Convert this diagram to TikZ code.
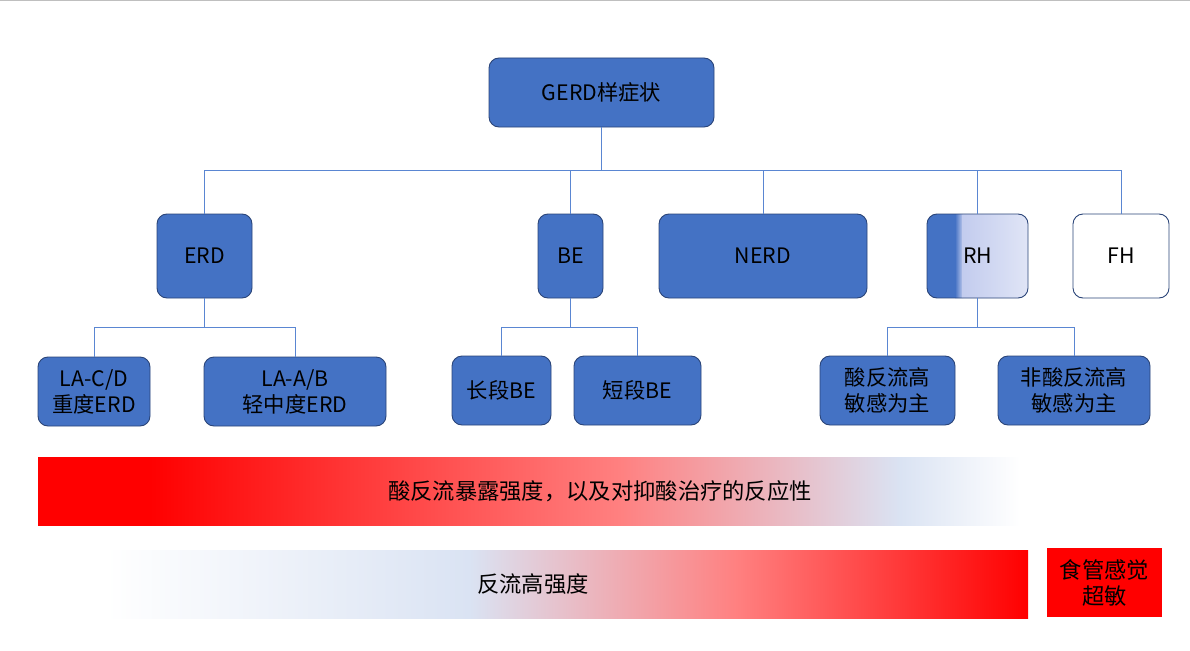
\documentclass[tikz,border=0pt]{standalone}
\usepackage{fontspec}
\setmainfont{Noto Sans CJK SC}
\usepackage{xcolor}
\usetikzlibrary{positioning}
\definecolor{boxblue}{HTML}{4472C4}
\definecolor{boxedge}{HTML}{2A4478}
\definecolor{linkblue}{HTML}{5A86D2}
\definecolor{paleblue}{HTML}{DAE3F3}
\definecolor{rhpale}{HTML}{C3CCEE}
\definecolor{rhlight}{HTML}{E0E5F6}
\definecolor{pinkred}{HTML}{FF8080}

\pgfdeclarehorizontalshading{acidbar}{100bp}{color(0bp)=(red); color(30.7bp)=(red);
  color(54.6bp)=(pinkred); color(68.9bp)=(paleblue); color(75bp)=(white); color(100bp)=(white)}
\pgfdeclarehorizontalshading{refluxbar}{100bp}{color(0bp)=(white); color(25bp)=(white);
  color(44.7bp)=(paleblue); color(59.2bp)=(pinkred); color(75bp)=(red); color(100bp)=(red)}

\tikzset{
  catbox/.style={draw=boxedge, fill=boxblue, line width=0.9pt, rounded corners=10pt,
    minimum height=84pt, align=center, font=\fontsize{21.3}{26}\selectfont},
  leafbox/.style={catbox, minimum height=69pt},
  link/.style={draw=linkblue, line width=0.9pt},
  barlabel/.style={font=\fontsize{22.3}{26}\selectfont, align=center}
}

\begin{document}
\begin{tikzpicture}[x=1pt, y=-1pt]
  \useasboundingbox (0,0) rectangle (1190,650);
  \draw[black!25, line width=1.5pt] (0,0.75) -- (1190,0.75);

  % top level
  \node[leafbox, minimum width=225pt] (gerd) at (601.5,92.5) {GERD样症状};

  % second level
  \node[catbox, minimum width=95pt] (erd) at (204.5,256) {ERD};
  \node[catbox, minimum width=65pt] (be) at (570.5,256) {BE};
  \node[catbox, minimum width=208pt] (nerd) at (763,256) {NERD};
  \node[catbox, minimum width=101pt, fill=rhlight,
        path picture={
          \fill[boxblue, sharp corners] (path picture bounding box.north west)
            rectangle ([xshift=28.5pt]path picture bounding box.south west);
          \shade[sharp corners, left color=boxblue, right color=rhpale]
            ([xshift=28pt]path picture bounding box.north west)
            rectangle ([xshift=36pt]path picture bounding box.south west);
          \shade[sharp corners, left color=rhpale, right color=rhlight]
            ([xshift=35.5pt]path picture bounding box.north west)
            rectangle (path picture bounding box.south east);
        }] (rh) at (977.5,256) {RH};
  \node[catbox, minimum width=96pt, fill=white] (fh) at (1121,256) {FH};

  % third level
  \node[leafbox, minimum width=112pt] (lacd) at (94,391.5) {LA-C/D\\重度ERD};
  \node[leafbox, minimum width=182pt] (laab) at (295,391.5) {LA-A/B\\轻中度ERD};
  \node[leafbox, minimum width=99pt] (longbe) at (501.5,390.5) {长段BE};
  \node[leafbox, minimum width=127pt] (shortbe) at (637.5,390.5) {短段BE};
  \node[leafbox, minimum width=135pt] (acidrh) at (887.5,390.5) {酸反流高\\敏感为主};
  \node[leafbox, minimum width=152pt] (nonacidrh) at (1074,390.5) {非酸反流高\\敏感为主};

  % connectors
  \foreach \n in {erd,be,nerd,rh,fh}
    \draw[link] (gerd.south) -- ++(0,43) -| (\n.north);
  \foreach \n in {lacd,laab}
    \draw[link] (erd.south) -- ++(0,29) -| (\n.north);
  \foreach \n in {longbe,shortbe}
    \draw[link] (be.south) -- ++(0,29) -| (\n.north);
  \foreach \n in {acidrh,nonacidrh}
    \draw[link] (rh.south) -- ++(0,29) -| (\n.north);

  % gradient bars
  \shade[shading=acidbar] (38,457) rectangle (1020,525);
  \node[barlabel] (acidtext) at (600,491) {酸反流暴露强度，以及对抑酸治疗的反应性};
  \shade[shading=refluxbar] (106,550) rectangle (1028,618);
  \node[barlabel] (refluxtext) at (533,584) {反流高强度};
  \node[barlabel, fill=red, minimum width=115pt, minimum height=69pt] (hyper) at (1104.5,582.5)
    {食管感觉\\超敏};
\end{tikzpicture}
\end{document}
